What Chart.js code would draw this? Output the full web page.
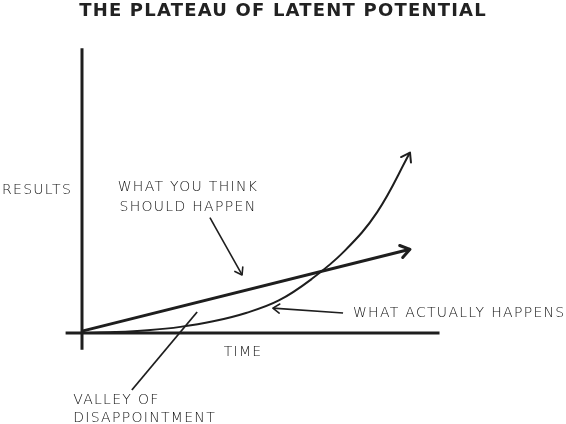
<!DOCTYPE html>
<html lang="en">
<head>
    <meta charset="UTF-8">
    <script src="https://cdn.jsdelivr.net/npm/chart.js"></script>
    <title>The Plateau of Latent Potential</title>
    <style>
        body {
            margin: 0;
            padding: 0;
            background-color: #fff;
        }
        #plateauChart {
            display: block;
        }
    </style>
</head>
<body>
    <canvas id="plateauChart" width="566" height="424"></canvas>
    <script>
        // time along the bottom, results up the side (arbitrary units)
        const timeSteps = [0, 1, 2, 3, 4, 5, 6, 7, 8, 9, 10];
        const actualResults = [0, 0.05, 0.15, 0.33, 0.63, 1.08, 1.75, 2.9, 4.4, 6.5, 9.7];
        const expectedTime = [0, 10];
        const expectedResults = [0.1, 4.5];

        // hand-drawn axes
        const timeAxis = [[-0.5, 0], [10.9, 0]];
        const resultsAxis = [[0, -0.9], [0, 15.3]];

        // pointer lines for the labels
        const thinkPointer = [[3.9, 6.2], [4.88, 3.12]];
        const actualPointer = [[7.96, 1.08], [5.82, 1.34]];
        const valleyPointer = [[1.52, -3.06], [3.51, 1.13]];

        // labels: text, x, y, align
        const labels = [
            ['RESULTS', -2.44, 7.69, 'left'],
            ['WHAT YOU THINK', 3.23, 7.85, 'center'],
            ['SHOULD HAPPEN', 3.23, 6.77, 'center'],
            ['WHAT ACTUALLY HAPPENS', 8.26, 1.08, 'left'],
            ['TIME', 4.91, -1.02, 'center'],
            ['VALLEY OF', -0.27, -3.6, 'left'],
            ['DISAPPOINTMENT', -0.27, -4.57, 'left']
        ];
        const titleText = 'THE PLATEAU OF LATENT POTENTIAL';

        const ink = '#1e1e1e';
        const toPoints = pairs => pairs.map(p => ({ x: p[0], y: p[1] }));

        function segment(pairs, width, arrow) {
            return {
                data: toPoints(pairs),
                borderColor: ink,
                borderWidth: width,
                pointRadius: 0,
                showLine: true,
                clip: false,
                arrow: arrow
            };
        }

        // draws open arrowheads at the end of datasets flagged with arrow
        const arrowPlugin = {
            id: 'arrowHeads',
            afterDatasetsDraw(chart) {
                const ctx = chart.ctx;
                chart.data.datasets.forEach((ds, i) => {
                    if (!ds.arrow) return;
                    const pts = chart.getDatasetMeta(i).data;
                    const end = pts[pts.length - 1];
                    let fx = pts[pts.length - 2].x, fy = pts[pts.length - 2].y;
                    if (end.cp1x !== undefined && (end.cp1x !== end.x || end.cp1y !== end.y)) {
                        fx = end.cp1x; fy = end.cp1y;
                    }
                    const ang = Math.atan2(end.y - fy, end.x - fx);
                    const len = ds.arrow;
                    ctx.save();
                    ctx.strokeStyle = ink;
                    ctx.lineWidth = ds.borderWidth;
                    ctx.lineCap = 'round';
                    ctx.lineJoin = 'round';
                    ctx.beginPath();
                    ctx.moveTo(end.x - len * Math.cos(ang - 0.6), end.y - len * Math.sin(ang - 0.6));
                    ctx.lineTo(end.x, end.y);
                    ctx.lineTo(end.x - len * Math.cos(ang + 0.6), end.y - len * Math.sin(ang + 0.6));
                    ctx.stroke();
                    ctx.restore();
                });
            }
        };

        // title and the hand lettered labels
        const textPlugin = {
            id: 'sketchText',
            afterDraw(chart) {
                const ctx = chart.ctx;
                const xs = chart.scales.x, ys = chart.scales.y;
                ctx.save();
                ctx.fillStyle = '#222';
                ctx.textBaseline = 'middle';
                ctx.font = 'bold 18px "DejaVu Sans"';
                ctx.letterSpacing = '1.2px';
                ctx.textAlign = 'center';
                ctx.fillText(titleText, chart.width / 2, 11);
                ctx.fillStyle = '#111';
                ctx.font = '200 14px "DejaVu Sans"';
                ctx.letterSpacing = '1.3px';
                labels.forEach(l => {
                    ctx.textAlign = l[3];
                    ctx.fillText(l[0], xs.getPixelForValue(l[1]), ys.getPixelForValue(l[2]));
                });
                ctx.restore();
            }
        };

        const actualCurve = segment(timeSteps.map((t, i) => [t, actualResults[i]]), 2, 10);
        actualCurve.tension = 0.4;

        const config = {
            type: 'scatter',
            data: {
                datasets: [
                    segment(timeAxis, 3, 0),
                    segment(resultsAxis, 3, 0),
                    segment(expectedTime.map((t, i) => [t, expectedResults[i]]), 3, 11),
                    actualCurve,
                    segment(thinkPointer, 1.6, 8),
                    segment(actualPointer, 1.6, 8),
                    segment(valleyPointer, 1.8, 0)
                ]
            },
            options: {
                responsive: false,
                animation: false,
                layout: { padding: 0 },
                scales: {
                    x: { type: 'linear', display: false, min: -2.5, max: 14.756 },
                    y: { type: 'linear', display: false, min: -4.89, max: 17.9 }
                },
                plugins: {
                    legend: { display: false },
                    tooltip: { enabled: false }
                }
            },
            plugins: [arrowPlugin, textPlugin]
        };

        const myChart = new Chart(document.getElementById('plateauChart'), config);
    </script>
</body>
</html>
